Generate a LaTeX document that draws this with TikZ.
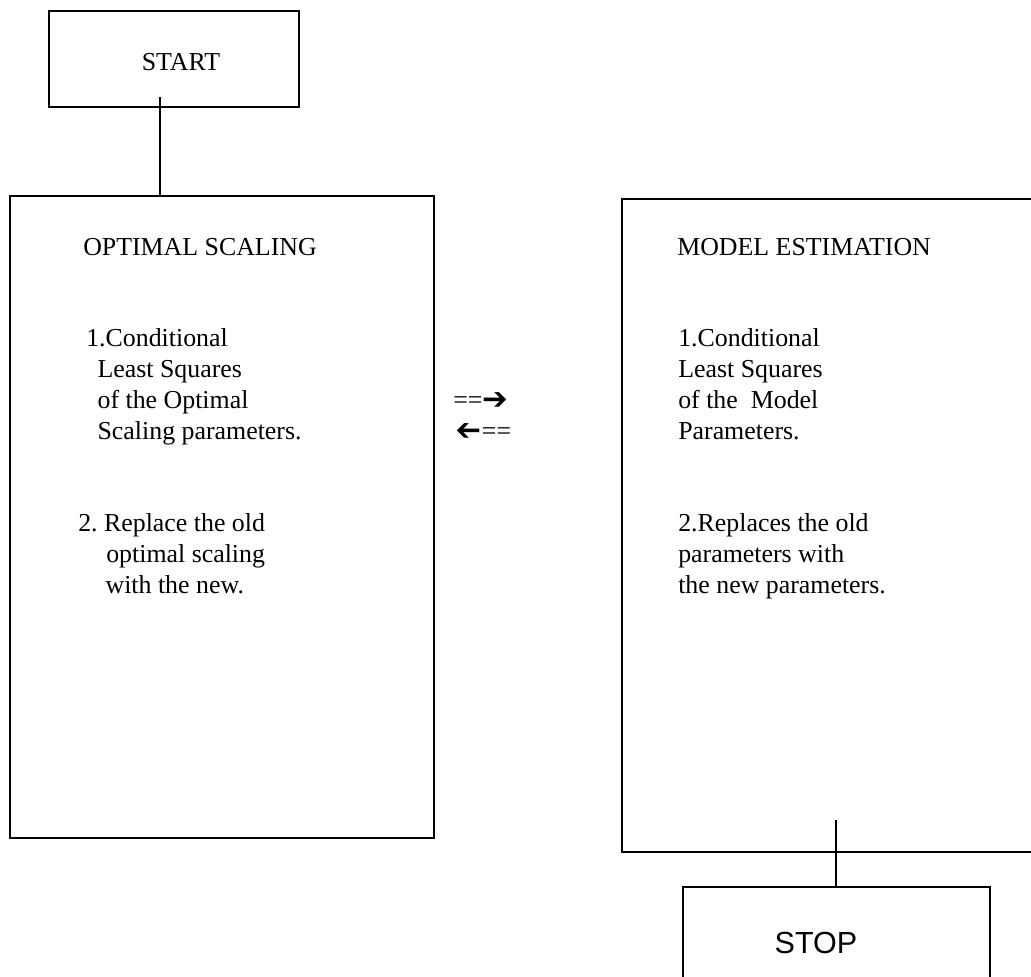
\documentclass[tikz,border=0pt]{standalone}
\usepackage{fontspec}
\usepackage{graphicx}
\setmainfont{Liberation Serif}
\newfontfamily\arialfont{Liberation Sans}
\newfontfamily\dejafont{DejaVu Sans}
\frenchspacing
\begin{document}
\begin{tikzpicture}[x=0.75pt,y=-0.75pt,
  box/.style={draw, line width=1.5pt, inner sep=0pt, anchor=north west},
  line/.style={draw, line width=1.5pt},
  txt/.style={inner sep=0pt, font=\fontsize{19.4}{23.1}\selectfont, align=left, anchor=base west},
  arr/.style={inner sep=0pt, font=\fontsize{19.4}{22.9}\selectfont, anchor=west}]
\useasboundingbox (0,0) rectangle (1031,976);
\clip (0,0) rectangle (1031,976);
% boxes
\node[box, minimum width=187.5pt, minimum height=72pt] (start) at (48,10) {};
\node[box, minimum width=318pt, minimum height=481.5pt] (opt) at (9,195) {};
\node[box, minimum width=318pt, minimum height=489.75pt] (model) at (621,198) {};
\node[box, minimum width=230.25pt, minimum height=90pt] (stop) at (682,886) {};
% connectors
\coordinate (c1) at (160,97);
\draw[line] (c1) -- (c1 |- opt.north);
\coordinate (c2) at (836,820);
\draw[line] (c2) -- (c2 |- stop.north);
% texts (anchor = baseline of the last line)
\node[txt, anchor=base] (tstart) at (181,70) {START};
\node[txt] (topt) at (83,255) {OPTIMAL SCALING};
\node[txt] (tmodel) at (677,255) {MODEL ESTIMATION};
\node[txt] (l1) at (86,439) {1.Conditional\\\hspace*{8.5pt}Least Squares\\\hspace*{8.5pt}of the Optimal\\\hspace*{8.5pt}Scaling parameters.};
\node[txt] (l2) at (78,593) {2. Replace the old\\\hspace*{21pt}optimal scaling\\\hspace*{20.5pt}with the new.};
\node[txt] (r1) at (678,439) {1.Conditional\\Least Squares\\of the\ \ Model\\Parameters.};
\node[txt] (r2) at (678,593) {2.Replaces the old\\parameters with\\the new parameters.};
\node[arr] (a1) at (453,401) {==\raisebox{-1pt}{\dejafont\bfseries\fontsize{23}{23}\selectfont ➔}};
\node[arr] (a2) at (456,432) {\raisebox{-1pt}{\scalebox{-1}[1]{\dejafont\bfseries\fontsize{23}{23}\selectfont ➔}}==};
\node[inner sep=0pt, font=\arialfont\fontsize{22.9}{26}\selectfont, anchor=base] (tstop) at (816,953) {STOP};
\end{tikzpicture}
\end{document}
